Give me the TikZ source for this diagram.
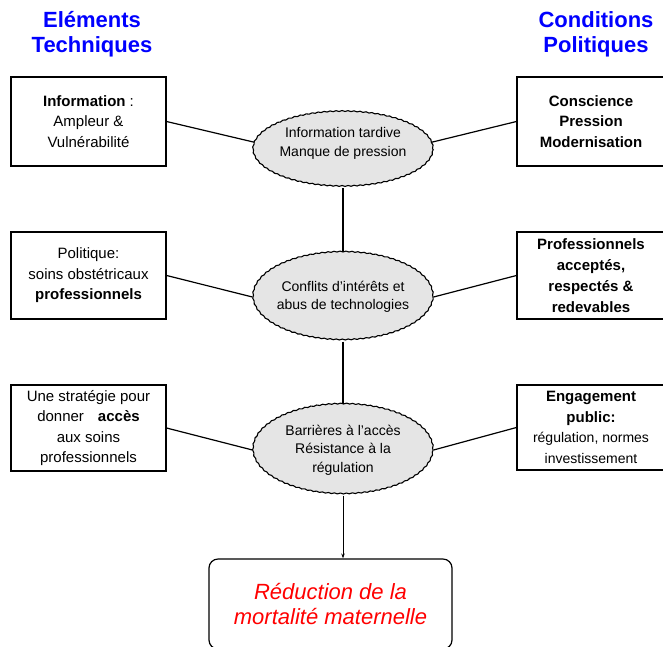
\documentclass[tikz,border=0pt]{standalone}
\usepackage{fontspec}
\setmainfont{Liberation Sans}
\usetikzlibrary{shapes.geometric,arrows.meta,decorations.pathmorphing}

\begin{document}
\begin{tikzpicture}[x=1pt,y=-1pt,
    techbox/.style={draw,line width=1.2pt,inner sep=0pt,align=center,
      minimum width=155pt,font=\fontsize{15}{20.5}\selectfont},
    polbox/.style={techbox,minimum width=148pt},
    obstacle/.style={ellipse,draw,line width=1.1pt,fill=black!10,
      inner xsep=-4pt,inner ysep=0pt,minimum width=180pt,align=center,
      font=\fontsize{14}{18.5}\selectfont,
      decorate,decoration={snake,segment length=6pt,amplitude=0.45pt}},
    goal/.style={draw,line width=1.2pt,rounded corners=9pt,
      minimum width=243pt,minimum height=90pt,text=red,align=center,
      font=\fontsize{22}{24.5}\selectfont\itshape},
    heading/.style={text=blue,align=center,
      font=\fontsize{22}{25}\selectfont\bfseries},
    link/.style={line width=1.2pt}]
  \useasboundingbox (0,0) rectangle (663,646);
  \clip (0,0) rectangle (663,646);

  % titres des deux colonnes
  \node[heading] (techhead) at (92,34) {Eléments\\Techniques};
  \node[heading] (polhead) at (596,34) {Conditions\\Politiques};

  % elements techniques
  \node[techbox,minimum height=89pt] (info) at (88.5,121.5)
    {\textbf{Information} :\\Ampleur \&\\Vulnérabilité};
  \node[techbox,minimum height=87pt] (politique) at (88.5,275.5)
    {Politique:\\soins obstétricaux\\\textbf{professionnels}};
  \node[techbox,minimum height=86pt] (strategie) at (88.5,428)
    {Une stratégie pour\\donner\hspace{14pt}\textbf{accès}\\aux soins\\professionnels};

  % conditions politiques
  \node[polbox,minimum height=89pt,font=\fontsize{15}{20.5}\selectfont\bfseries]
    (conscience) at (591,121.5) {Conscience\\Pression\\Modernisation};
  \node[polbox,minimum height=87pt,font=\fontsize{15}{21}\selectfont\bfseries]
    (professionnels) at (591,275.5)
    {Professionnels\\acceptés,\\respectés \&\\redevables};
  \node[polbox,minimum height=85pt] (engagement) at (591,427.5)
    {\textbf{Engagement}\\\textbf{public:}\\{\fontsize{14}{19}\selectfont régulation, normes}\\
     {\fontsize{14}{18}\selectfont investissement}};

  % obstacles
  \node[obstacle,minimum height=75pt,text depth=16pt] (retard) at (343,150)
    {Information tardive\\Manque de pression};
  \node[obstacle,minimum height=88pt] (conflits) at (343,297)
    {Conflits d'intérêts et\\abus de technologies};
  \node[obstacle,minimum height=90pt] (barrieres) at (343,450)
    {Barrières à l'accès\\Résistance à la\\régulation};

  % objectif
  \node[goal] (reduction) at (330.5,604)
    {Réduction de la\\mortalité maternelle};

  \draw[link] (info.east) -- (retard.175);
  \draw[link] (retard.5) -- (conscience.west);
  \draw[link] (politique.east) -- (conflits.west);
  \draw[link] (conflits.east) -- (professionnels.west);
  \draw[link] (strategie.east) -- (barrieres.west);
  \draw[link] (barrieres.east) -- (engagement.west);
  \draw[link] (retard.south) -- (conflits.north);
  \draw[link] (conflits.south) -- (barrieres.north);
  \draw[line width=0.9pt,-{Stealth[length=5pt,width=3.5pt]}]
    (barrieres.south) -- (barrieres.south |- reduction.north);
\end{tikzpicture}
\end{document}
